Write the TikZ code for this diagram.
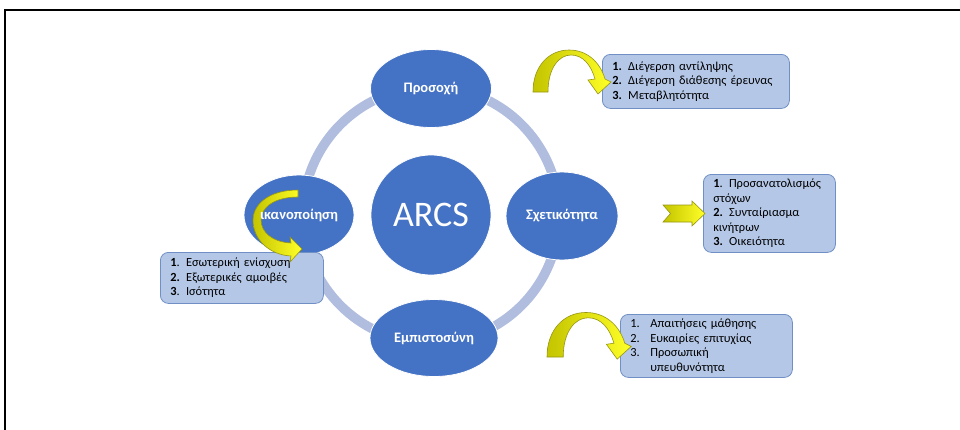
\documentclass[tikz,border=0pt]{standalone}
\usepackage{fontspec}
\setmainfont{Carlito}
\usetikzlibrary{shapes.geometric}
\definecolor{arcsblue}{RGB}{68,114,196}
\definecolor{ringgrey}{RGB}{176,189,222}
\definecolor{boxfill}{RGB}{180,199,231}
\definecolor{boxline}{RGB}{112,143,196}
\definecolor{arrowyellow}{RGB}{255,255,40}
\definecolor{arrowdark}{RGB}{196,196,0}
\definecolor{arrowline}{RGB}{150,150,20}
\begin{document}
\begin{tikzpicture}[x=1pt,y=-1pt,
	ring/.style={draw=ringgrey,line width=9.5pt},
	stage/.style={ellipse,fill=arcsblue,draw=white,line width=0.8pt,text=white,inner sep=0pt,
		font=\fontsize{14.5}{17}\selectfont\bfseries},
	listbox/.style={draw=boxline,fill=boxfill,rounded corners=8pt,line width=0.8pt,anchor=north west,
		align=left,inner xsep=10pt,inner ysep=4pt,font=\fontsize{12.4}{14.5}\selectfont},
	yarrow/.style={draw=arrowline,line width=0.6pt,left color=arrowdark,right color=arrowyellow},
	archarrow/.pic={
		\path[yarrow] (0,0) .. controls (0,-26) and (16,-42) .. (36,-42)
			.. controls (54,-42) and (67,-30) .. (72,-13) -- (78,-10) -- (65,2) -- (55,-12) -- (62,-13)
			.. controls (58,-27) and (50,-37) .. (38,-37) .. controls (26,-37) and (15,-24) .. (15,0) -- cycle;
	}]
	\useasboundingbox (0,0) rectangle (960,429);
	\draw[line width=2pt] (5,440) -- (5,10) -- (970,10);

	% ring of the four stages
	\coordinate (hub) at (431,215);
	\draw[ring] (hub) circle[radius=128pt];

	\node[circle,fill=arcsblue,draw=white,line width=0.8pt,minimum size=120pt,text=white,
		font=\fontsize{36}{40}\selectfont] (arcs) at (hub) {ARCS};
	\node[stage,minimum width=121pt,minimum height=78pt] (attn) at (431,88.5) {Προσοχή};
	\node[stage,minimum width=112pt,minimum height=88pt] (relev) at (562,216) {Σχετικότητα};
	\node[stage,minimum width=128pt,minimum height=77pt] (conf) at (434,338) {Εμπιστοσύνη};
	\node[stage,minimum width=110pt,minimum height=80pt] (satis) at (299,215) {};

	% lists
	\node[listbox,text width=167pt,minimum height=54pt] (attnlist) at (602,54)
		{\textbf{1.} Διέγερση αντίληψης\\\textbf{2.} Διέγερση διάθεσης έρευνας\\\textbf{3.} Μεταβλητότητα};
	\node[listbox,text width=112pt,minimum height=78pt] (relevlist) at (703,174)
		{\textbf{1}. Προσανατολισμός\\στόχων\\\textbf{2.} Συνταίριασμα\\κινήτρων\\\textbf{3.} Οικειότητα};
	\node[listbox,text width=143pt,minimum height=51pt] (satislist) at (160,252)
		{\textbf{1}. Εσωτερική ενίσχυση\\\textbf{2.} Εξωτερικές αμοιβές\\\textbf{3}. Ισότητα};
	\node[listbox,text width=152pt,minimum height=63pt] (conflist) at (620,314)
		{\makebox[20pt][l]{1.}Απαιτήσεις μάθησης\\\makebox[20pt][l]{2.}Ευκαιρίες επιτυχίας\\
		\makebox[20pt][l]{3.}Προσωπική\\\hspace*{20pt}υπευθυνότητα};

	% yellow arrows
	\pic at (533,92) {archarrow};
	\pic[xscale=1.08,yscale=1.06] at (547,357) {archarrow};
	\path[yarrow] (663,205) -- (692,205) -- (692,201) -- (705,213.5) -- (692,226) -- (692,222)
		-- (663,222) -- (670.5,213.5) -- cycle;
	\path[yarrow] (298,190) .. controls (268,190) and (253,205) .. (253,220)
		.. controls (253,240) and (270,255) .. (291,256) -- (290,262) -- (302,249) -- (290,237) -- (291,243)
		.. controls (272,242) and (261,232) .. (261,220) .. controls (261,207) and (275,197) .. (298,197) -- cycle;
	\node[text=white,font=\fontsize{14.5}{17}\selectfont\bfseries] (satislabel) at (satis) {ικανοποίηση};
\end{tikzpicture}
\end{document}
